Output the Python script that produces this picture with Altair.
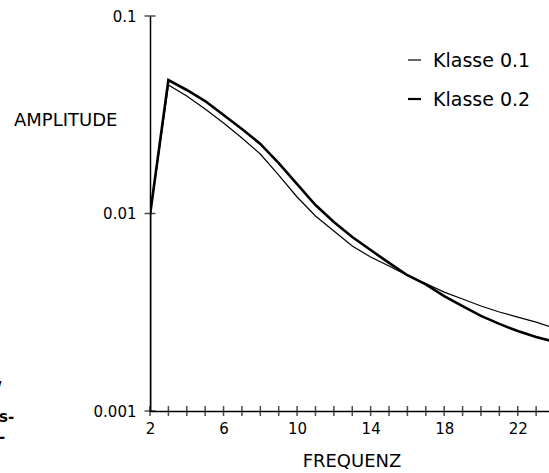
import altair as alt
import pandas as pd

# Frequency steps; the curve starts at the bottom of the axis and climbs at f = 2
freq = [2, 2, 3, 4, 5, 6, 7, 8, 9, 10, 11, 12, 13, 14, 15, 16, 17, 18, 19, 20, 21, 22, 23, 24]

klasse_01 = [0.001, 0.0098, 0.0447, 0.0393, 0.0338, 0.0287, 0.0241, 0.0200, 0.01566,
             0.01212, 0.00971, 0.00815, 0.00685, 0.00602, 0.00542, 0.00485, 0.00442,
             0.00400, 0.00369, 0.00340, 0.00317, 0.00299, 0.00282, 0.00263]

klasse_02 = [0.001, 0.0098, 0.0474, 0.0422, 0.0371, 0.0315, 0.0268, 0.0225, 0.0180,
             0.0141, 0.01104, 0.00906, 0.00760, 0.00653, 0.00562, 0.00487, 0.00438,
             0.00382, 0.00340, 0.00303, 0.00276, 0.00254, 0.00237, 0.00224]

series_names = ["Klasse 0.1", "Klasse 0.2"]
x_tick_labels = [2, 6, 10, 14, 18, 22]
x_minor_ticks = list(range(2, 24))
y_ticks = [0.001, 0.01, 0.1]

FONT = "DejaVu Sans"
W, H = 399, 395

rows = []
for name, vals in zip(series_names, [klasse_01, klasse_02]):
    for i, (f, v) in enumerate(zip(freq, vals)):
        rows.append({"serie": name, "step": i, "f": f, "amp": v})
df = pd.DataFrame(rows)

x_scale = alt.Scale(domain=[2, 23.7], nice=False, zero=False)
y_scale = alt.Scale(type="log", domain=[0.001, 0.1], nice=False)

lines = alt.Chart(df).mark_line(color="black", clip=True, strokeJoin="miter").encode(
    x=alt.X("f:Q", scale=x_scale,
            axis=alt.Axis(values=x_tick_labels, title=None, ticks=False, tickSize=0,
                          grid=False, domainColor="black", domainWidth=1.5,
                          labelFont=FONT, labelFontSize=15, labelColor="black",
                          labelPadding=10, labelFlush=False)),
    y=alt.Y("amp:Q", scale=y_scale,
            axis=alt.Axis(values=y_ticks, format=".3~f", title=None, ticks=False,
                          tickSize=0, grid=False, domainColor="black", domainWidth=1.5,
                          labelFont=FONT, labelFontSize=15, labelColor="black",
                          labelPadding=14)),
    detail="serie:N",
    order="step:Q",
    strokeWidth=alt.StrokeWidth("serie:N",
                                scale=alt.Scale(domain=series_names, range=[1.2, 2.6]),
                                legend=None),
)

# Ticks crossing the axes
xt = alt.Chart(pd.DataFrame({"f": x_minor_ticks, "amp": [0.001] * len(x_minor_ticks)})).mark_tick(
    color="black", orient="vertical", size=10, thickness=1.5
).encode(x=alt.X("f:Q", scale=x_scale), y=alt.Y("amp:Q", scale=y_scale))

yt = alt.Chart(pd.DataFrame({"f": [2] * len(y_ticks), "amp": y_ticks})).mark_tick(
    color="black", orient="horizontal", size=11, thickness=1.5
).encode(x=alt.X("f:Q", scale=x_scale), y=alt.Y("amp:Q", scale=y_scale))


def label(text, px, py, size, align="left", weight="normal"):
    return alt.Chart(pd.DataFrame({"t": [text]})).mark_text(
        font=FONT, fontSize=size, fontWeight=weight, color="black",
        align=align, baseline="alphabetic"
    ).encode(text="t:N", x=alt.value(px), y=alt.value(py))


def dash(py, width):
    return alt.Chart(pd.DataFrame({"t": [py]})).mark_rule(
        color="black", strokeWidth=width
    ).encode(x=alt.value(258), x2=alt.value(271), y=alt.value(py))


# Titles
amp_title = label("AMPLITUDE", -136, 110, 18)
freq_title = label("FREQUENZ", 202, 451, 18, align="center")

# Legend
leg1 = label(series_names[0], 283, 51, 19)
leg2 = label(series_names[1], 283, 90, 19)
dash1 = dash(44, 1.2)
dash2 = dash(83, 2.2)

# Fragments of neighbouring text at the left margin
frag0 = label("/", -154, 377, 15, weight="bold")
frag1 = label("s-", -151, 406, 15, weight="bold")
frag2 = label("-", -151, 426, 15, weight="bold")

chart = alt.layer(
    lines, xt, yt, amp_title, freq_title, leg1, leg2, dash1, dash2, frag0, frag1, frag2
).properties(
    width=W, height=H,
    background="white",
    autosize=alt.AutoSizeParams(type="none"),
    padding={"left": 150, "top": 16, "right": 0, "bottom": 62},
).configure_view(stroke=None)

chart.save("out.html", embed_options={"renderer": "svg", "actions": False})
